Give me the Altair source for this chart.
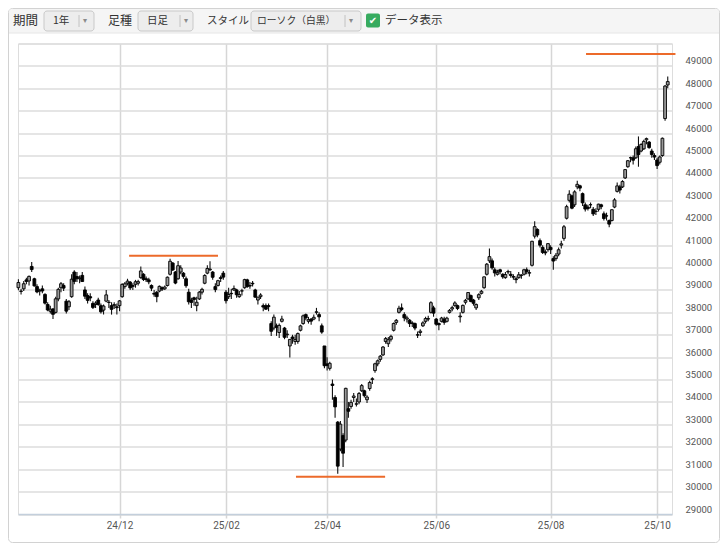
import altair as alt
import pandas as pd

# ---- daily candles (Oct 2024 - Oct 2025) ----
opens = [39100,38950,39050,39450,39400,40050,39500,39150,38950,39050,38800,38350,38050,38150,38000,38600,39100,39200,
         38500,38250,38700,39800,39600,39500,39650,39000,38750,38700,38400,38350,38550,38300,38100,38500,38450,38300,38300,38250,
         38300,38700,39150,39300,39350,39200,39250,39300,39550,39700,39500,39450,39200,38850,38900,38950,39100,39050,39200,39700,40200,
         39800,39500,39800,39750,39500,38900,38550,38650,38300,38600,38900,39300,39750,39900,39800,39150,39200,39550,39750,
         38900,38700,38850,39000,39000,38700,38950,39100,39450,39200,39300,39000,38550,38700,38300,38300,38300,37500,
         37300,37400,37100,37600,37300,37000,36500,36900,36700,36700,37200,37500,37900,37600,37700,37700,38000,37900,37400,36500,
         35700,35500,34800,34200,33100,31900,32500,32300,33700,33800,34200,33900,34000,34500,34500,34100,34600,35000,35400,35700,35900,
         36100,36700,36600,36800,37200,37550,38000,38200,37900,37700,37650,37500,37500,37000,37100,37400,37600,37700,38000,38200,
         37700,37500,37600,37700,37600,38000,38150,38300,38300,37800,38000,38450,38600,38750,38550,38200,38650,38850,39100,39700,40300,
         40300,39900,39700,39900,39700,39550,39800,39700,39600,39500,39550,39650,39700,39900,39750,40100,41400,41700,41200,40900,40700,40800,
         40900,40400,40400,40600,41000,41300,42200,43000,43200,42800,43600,43650,43300,42800,42700,42800,42600,42500,42600,42800,
         42400,42300,42100,42100,42700,43400,43600,43600,44000,44500,44900,44900,44900,45400,45200,45300,45700,45600,45200,45000,
         44800,44700,45000,46650,48150]
highs = [39480,39050,39400,39550,39650,40250,39550,39250,39050,39200,38850,38450,38300,38200,38700,39100,39350,39300,
         38600,38550,39700,39880,39800,39650,39800,39150,38850,38850,38500,38500,38650,38400,38350,39000,38550,38450,38450,38400,
         38550,39300,39350,39500,39400,39300,39450,39450,40050,39750,39600,39550,39250,39000,38950,39200,39150,39200,39600,40398,40250,
         39850,40290,40100,39800,39600,39050,38650,38700,38700,38950,39100,39700,40100,40280,39850,39300,39450,39650,39850,
         39000,39100,39050,39200,39050,38950,39050,39500,39500,39350,39400,39050,38700,38850,38400,38400,38400,37600,
         37900,37500,37500,37850,37350,37200,36800,37000,37000,37100,37450,37900,37950,37800,37750,37900,38200,38000,37500,36500,
         36000,35800,35000,34300,33150,33150,32600,34639,34000,34100,34400,34150,34450,34800,34550,34300,34950,35100,35750,35900,36100,
         36500,36900,36900,37000,37550,37700,38300,38400,38000,37850,37700,37600,37550,37150,37250,37600,37800,37850,38500,38300,
         37750,37550,37800,37800,37800,38150,38300,38500,38350,38000,38350,38600,38900,38800,38600,38400,38850,39000,39600,40200,40852,
         40400,40000,39900,39950,39750,39800,39900,39850,39700,39600,39800,39700,39950,40000,39900,41200,42065,41750,41300,41000,40800,41100,
         41000,40500,40650,40900,41200,41900,42800,43450,43250,43450,43876,43700,43350,42900,42800,42900,42700,42650,42850,42850,
         42500,42450,42150,42600,43100,43800,43700,43900,44400,44800,44950,45000,45400,45852,45550,45700,45800,45650,45300,45100,
         44900,45000,45800,48150,48527]
lows = [38990,38800,38950,39250,39200,39800,39150,38850,38750,38850,38350,38050,37950,37700,37950,38500,38900,38950,
        37950,38100,38650,39250,39350,39300,39350,38600,38400,38500,38150,38200,38300,37950,37900,38450,38200,37900,38150,37900,
        38050,38650,39050,39200,39000,39000,39100,39200,39500,39400,39350,39250,38950,38700,38450,38900,38950,39000,39150,39650,39850,
        39250,39450,39700,39500,39100,38350,38200,38300,38050,38550,38800,39250,39700,39850,39450,38900,39150,39350,39450,
        38400,38600,38600,38950,38650,38650,38750,39050,39100,39050,39150,38650,38350,38600,38050,38100,38050,36950,
        37200,36950,36850,37550,36800,36850,35987,36600,36550,36600,37150,37450,37650,37500,37450,37650,37900,37600,37050,35500,
        35400,35400,34100,33300,30792,31800,31100,32200,33300,33700,34000,33800,33900,34450,34200,33950,34500,34800,35300,35600,35800,
        36050,36600,36450,36700,37150,37450,37950,38050,37600,37550,37350,37350,37200,36850,36950,37350,37500,37600,37950,37800,
        37400,37200,37550,37450,37550,37950,38050,38250,38100,37550,37950,38350,38550,38450,38300,38100,38550,38800,39050,39650,40200,
        39900,39600,39650,39700,39500,39500,39700,39550,39450,39300,39500,39500,39650,39700,39600,40050,41300,41350,40900,40600,40550,40700,
        40600,39900,40300,40500,40850,41200,42150,42900,42600,42700,43500,43400,42750,42500,42550,42650,42300,42350,42500,42600,
        42100,42100,41800,42050,42650,43350,43300,43550,43950,44450,44700,44600,44850,44500,45150,45250,45500,45300,44900,44800,
        44400,44600,44950,46550,48000]
closes = [39332,38937,39277,39380,39605,39910,39180,38911,38981,38954,38411,38104,38143,37913,38605,39027,39277,39081,
          38053,38474,39480,39381,39500,39533,39376,38721,38535,38642,38220,38414,38352,38026,38283,38780,38442,38134,38349,38208,
          38513,39248,39276,39395,39091,39160,39367,39372,39849,39470,39457,39364,39081,38813,38701,39161,39036,39130,39568,40281,39894,
          39307,40083,39981,39605,39190,38474,38444,38572,38451,38902,39027,39646,39958,39931,39565,39016,39414,39513,39572,
          38520,38798,38831,39066,38787,38801,38963,39461,39149,39174,39270,38678,38678,38776,38237,38142,38256,37155,
          37785,37331,37418,37704,36887,37028,36793,36819,36790,37053,37396,37845,37751,37677,37608,37780,38027,37799,37120,35617,
          35624,35725,34736,33780,31136,33012,31714,34609,33586,33982,34267,33920,34377,34730,34280,34220,34868,35039,35705,35839,36045,
          36452,36831,36780,36928,37503,37644,38183,38128,37755,37753,37498,37529,37299,36985,37160,37531,37724,37722,38432,37965,
          37470,37446,37747,37554,37741,38088,38211,38421,38173,37834,38311,38536,38885,38488,38403,38354,38790,38942,39584,40150,40487,
          39986,39762,39785,39810,39587,39688,39821,39646,39570,39459,39678,39663,39901,39819,39774,41171,41826,41456,40998,40674,40654,41069,
          40799,40290,40549,40794,41059,41820,42718,43274,42649,43378,43714,43546,42888,42610,42633,42807,42394,42520,42829,42718,
          42188,42310,41938,42580,43019,43644,43459,43838,44372,44768,44902,44790,45303,45045,45493,45630,45754,45355,45043,44932,
          44550,44936,45769,48100,48300]

# month ticks (trading-day index of the first session of each labelled month)
tick_idx = [38, 78, 116, 157, 200, 240]
tick_lbl = ["24/12", "25/02", "25/04", "25/06", "25/08", "25/10"]
y_ticks = list(range(29000, 50001, 1000))

# orange marker lines
mark_level = [40530, 30660, 49530]
mark_from = [41.6, 104.3, 213.3]
mark_to = [75.0, 137.8, 246.9]

df = pd.DataFrame({"i": list(range(len(closes))), "o": opens, "h": highs, "l": lows, "c": closes})
df["up"] = df["c"] >= df["o"]
marks_df = pd.DataFrame({"lv": mark_level, "a": mark_from, "b": mark_to})

lbl_expr = " : ".join(f"datum.value == {v} ? '{t}'" for v, t in zip(tick_idx, tick_lbl)) + " : ''"

LABEL_FONT = "Roboto"
x_scale = alt.Scale(domain=[-0.15, 245.6], nice=False, zero=False, padding=0)
y_scale = alt.Scale(domain=[29000, 50000], nice=False, zero=False, padding=0)
x_axis = alt.Axis(values=tick_idx, labelExpr=lbl_expr, title=None, grid=True,
                  gridColor="#d6d6d6", gridWidth=1.5, domainColor="#c3cfdc", domainWidth=1.5,
                  tickColor="#d6d6d6", tickWidth=1.5, tickSize=4, labelPadding=2,
                  labelFont=LABEL_FONT, labelFontSize=10, labelColor="#555555",
                  labelFlush=False, labelOverlap=False)
y_axis = alt.Axis(orient="right", values=y_ticks, format="d",
                  labelExpr="datum.value >= 50000 ? '' : datum.label", title=None,
                  grid=True, gridColor="#dcdcdc", gridWidth=1.5, domain=False, ticks=False,
                  labelPadding=13, labelBaseline="alphabetic", labelOffset=-2,
                  labelFont=LABEL_FONT, labelFontSize=9.5, labelColor="#555555",
                  labelOverlap=False, labelFlush=False)

base = alt.Chart(df)
wicks = base.mark_rule(color="#111111", strokeWidth=1.1).encode(
    x=alt.X("i:Q", scale=x_scale, axis=x_axis),
    y=alt.Y("l:Q", scale=y_scale, axis=y_axis),
    y2="h:Q",
)
bodies = base.mark_bar(size=2.8, stroke="#000000", strokeWidth=0.9).encode(
    x=alt.X("i:Q", scale=x_scale, axis=x_axis),
    y=alt.Y("o:Q", scale=y_scale, axis=y_axis),
    y2="c:Q",
    fill=alt.condition("datum.up", alt.value("#9a9a9a"), alt.value("#000000")),
)
orange = alt.Chart(marks_df).mark_rule(color="#ec6a2a", strokeWidth=2).encode(
    x=alt.X("a:Q", scale=x_scale, axis=x_axis),
    x2="b:Q",
    y=alt.Y("lv:Q", scale=y_scale, axis=y_axis),
)

# ---- panel chrome (pixel positions relative to plot origin) ----
one = alt.Data(values=[{"k": 0}])
OX, OY = 18, 43.5


def rect(x1, x2, y1, y2, **kw):
    return alt.Chart(one).mark_rect(**kw).encode(
        x=alt.value(x1 - OX), x2=alt.value(x2 - OX), y=alt.value(y1 - OY), y2=alt.value(y2 - OY))


def text(s, x, y, size, color="#333333", font="Noto Sans CJK JP", align="left", weight="normal"):
    return alt.Chart(one).mark_text(text=s, align=align, baseline="middle", font=font,
                                    fontSize=size, color=color, fontWeight=weight).encode(
        x=alt.value(x - OX), y=alt.value(y - OY))


def vline(x, y1, y2, color):
    return alt.Chart(one).mark_rule(color=color, strokeWidth=1).encode(
        x=alt.value(x - OX), y=alt.value(y1 - OY), y2=alt.value(y2 - OY))


chrome = [
    rect(8.5, 719.5, 8.5, 542.5, fill="transparent", stroke="#d2d2d2", strokeWidth=1, cornerRadius=4),
    rect(9, 719, 9, 33, fill="#f5f5f5", cornerRadiusTopLeft=3, cornerRadiusTopRight=3),
    alt.Chart(one).mark_rule(color="#e6e6e6", strokeWidth=1).encode(
        x=alt.value(9 - OX), x2=alt.value(719 - OX), y=alt.value(33 - OY)),
]
ty = 20.7
for (bx1, bx2, dv) in [(44, 94, 79), (138, 193, 180), (251, 361, 345)]:
    chrome.append(rect(bx1, bx2, 11, 31, fill="#ededed", stroke="#c9c9c9", strokeWidth=1, cornerRadius=3))
    chrome.append(vline(dv, 15, 27, "#c2c2c2"))
    chrome.append(text("▾", dv + 6, ty, 8, color="#8a8a8a", font="DejaVu Sans", align="center"))
chrome += [
    text("期間", 13, ty, 12.5),
    text("1年", 53, ty, 10.5),
    text("足種", 108, ty, 12),
    text("日足", 147, ty, 10.5),
    text("スタイル", 207, ty, 10.5),
    text("ローソク（白黒）", 257, ty, 9.8),
    rect(366, 380, 13.5, 27.5, fill="#37ab5f", cornerRadius=2),
    text("✔", 373, ty, 10, color="#ffffff", font="DejaVu Sans", align="center", weight="bold"),
    text("データ表示", 385, ty, 11.5),
]

chart = alt.layer(*chrome[:3], wicks, bodies, orange, *chrome[3:]).properties(
    width=654, height=470.5,
    padding={"left": 10, "top": 35.5, "right": 48, "bottom": 29},
    autosize=alt.AutoSizeParams(type="none"),
).configure_view(stroke=None).configure(background="#ffffff")

chart.save("out.html", embed_options={"renderer": "svg", "actions": False})
